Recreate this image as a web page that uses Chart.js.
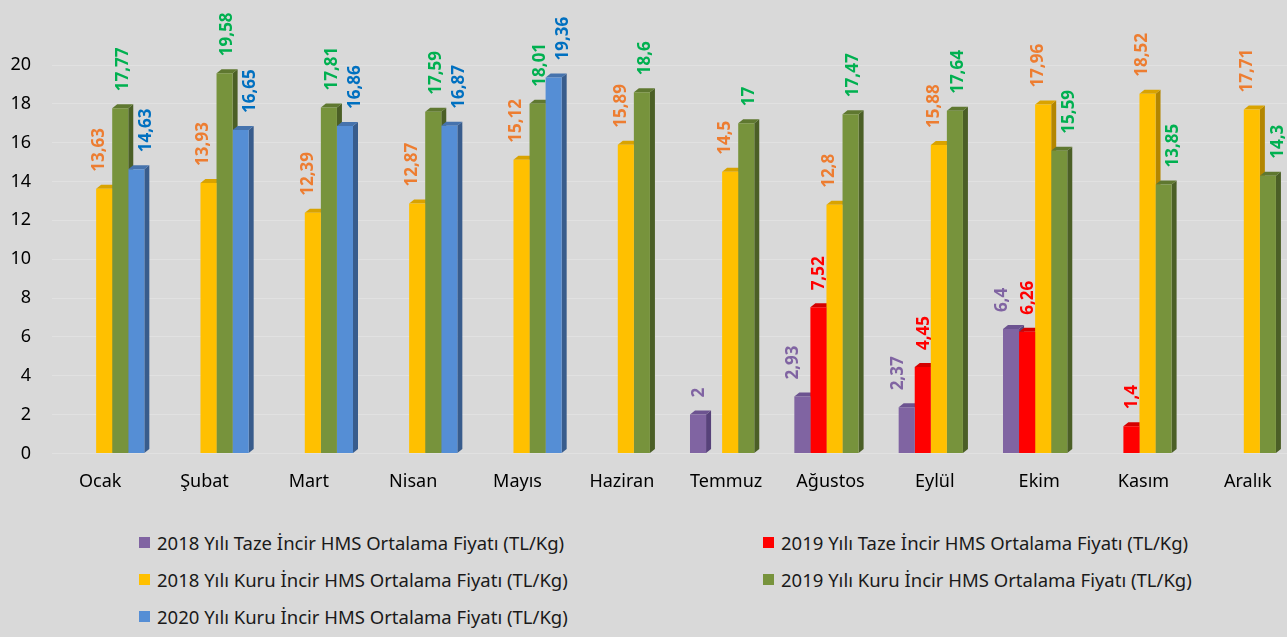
<!DOCTYPE html>
<html lang="tr">
<head>
<meta charset="utf-8">
<title>İncir HMS Ortalama Fiyatları</title>
<script src="https://cdn.jsdelivr.net/npm/chart.js@4.4.0/dist/chart.umd.min.js"></script>
<style>
  html, body { margin: 0; padding: 0; width: 1287px; height: 637px; overflow: hidden; background: #d9d9d9; }
  #wrap { position: absolute; left: 0; top: 0; width: 1304px; height: 512px; }
  #legend {
    position: absolute; left: 139px; top: 531px;
    display: grid; grid-template-columns: 624px auto; row-gap: 15px;
    font-family: "Noto Sans", sans-serif; font-size: 18.5px; color: #1a1a1a;
  }
  .item { display: flex; align-items: center; white-space: nowrap; height: 22px; }
  .box { width: 11px; height: 11px; margin-right: 7px; flex: none; }
</style>
</head>
<body>
<div id="wrap"><canvas id="chart"></canvas></div>
<div id="legend"></div>
<script>
const months = ['Ocak', 'Şubat', 'Mart', 'Nisan', 'Mayıs', 'Haziran', 'Temmuz', 'Ağustos', 'Eylül', 'Ekim', 'Kasım', 'Aralık'];

const taze2018 = [null, null, null, null, null, null, 2, 2.93, 2.37, 6.4, null, null];
const taze2019 = [null, null, null, null, null, null, null, 7.52, 4.45, 6.26, 1.4, null];
const kuru2018 = [13.63, 13.93, 12.39, 12.87, 15.12, 15.89, 14.5, 12.8, 15.88, 17.96, 18.52, 17.71];
const kuru2019 = [17.77, 19.58, 17.81, 17.59, 18.01, 18.6, 17, 17.47, 17.64, 15.59, 13.85, 14.3];
const kuru2020 = [14.63, 16.65, 16.86, 16.87, 19.36, null, null, null, null, null, null, null];

const seriesNames = [
    '2018 Yılı Taze İncir HMS Ortalama Fiyatı (TL/Kg)',
    '2019 Yılı Taze İncir HMS Ortalama Fiyatı (TL/Kg)',
    '2018 Yılı Kuru İncir HMS Ortalama Fiyatı (TL/Kg)',
    '2019 Yılı Kuru İncir HMS Ortalama Fiyatı (TL/Kg)',
    '2020 Yılı Kuru İncir HMS Ortalama Fiyatı (TL/Kg)'
];
const seriesData = [taze2018, taze2019, kuru2018, kuru2019, kuru2020];

// front, top, side, label colours per series
const barColors   = ['#8064a2', '#ff0000', '#ffc000', '#77933c', '#558ed5'];
const topColors   = ['#6c5390', '#d40000', '#d9a300', '#5f7830', '#4673ad'];
const sideColors  = ['#57427a', '#b00000', '#b38600', '#4b5f26', '#385c8c'];
const labelColors = ['#8064a2', '#ff0000', '#ed7d31', '#00b050', '#0070c0'];
// sideways nudge of the value labels so neighbours don't collide
const labelShift  = [-10, 0, -6, 2, 9];

const FONT = '"Noto Sans", sans-serif';
const DEPTH_X = 5;
const DEPTH_Y = 4;

function fmt(v) {
    return String(v).replace('.', ',');
}

function shiftFor(di, i) {
    if (di === 0 && taze2019[i] == null) return 0;
    if (di === 3 && kuru2018[i] > kuru2019[i]) return 9;
    return labelShift[di];
}

// side + top faces, drawn behind the fronts so neighbours hide them
const bars3d = {
    id: 'bars3d',
    beforeDatasetsDraw(chart) {
        const ctx = chart.ctx;
        ctx.save();
        chart.data.datasets.forEach((ds, di) => {
            const meta = chart.getDatasetMeta(di);
            meta.data.forEach((bar, i) => {
                if (ds.data[i] == null) return;
                const { x, y, base, width } = bar.getProps(['x', 'y', 'base', 'width'], true);
                const l = x - width / 2, r = x + width / 2;
                ctx.fillStyle = sideColors[di];
                ctx.beginPath();
                ctx.moveTo(r, y);
                ctx.lineTo(r + DEPTH_X, y - DEPTH_Y);
                ctx.lineTo(r + DEPTH_X, base - DEPTH_Y);
                ctx.lineTo(r, base);
                ctx.closePath();
                ctx.fill();
                ctx.fillStyle = topColors[di];
                ctx.beginPath();
                ctx.moveTo(l, y);
                ctx.lineTo(l + DEPTH_X, y - DEPTH_Y);
                ctx.lineTo(r + DEPTH_X, y - DEPTH_Y);
                ctx.lineTo(r, y);
                ctx.closePath();
                ctx.fill();
            });
        });
        ctx.restore();
    }
};

// rotated value labels above each bar
const valueLabels = {
    id: 'valueLabels',
    afterDatasetsDraw(chart) {
        const ctx = chart.ctx;
        ctx.save();
        ctx.font = 'bold 17px ' + FONT;
        ctx.textAlign = 'left';
        ctx.textBaseline = 'middle';
        chart.data.datasets.forEach((ds, di) => {
            const meta = chart.getDatasetMeta(di);
            meta.data.forEach((bar, i) => {
                const v = ds.data[i];
                if (v == null) return;
                ctx.save();
                ctx.translate(bar.x + 1 + shiftFor(di, i), bar.y - 17);
                ctx.rotate(-Math.PI / 2);
                ctx.fillStyle = labelColors[di];
                ctx.fillText(fmt(v), 0, 0);
                ctx.restore();
            });
        });
        ctx.restore();
    }
};

const background = {
    id: 'background',
    beforeDraw(chart) {
        const ctx = chart.ctx;
        ctx.save();
        ctx.fillStyle = '#d9d9d9';
        ctx.fillRect(0, 0, chart.width, chart.height);
        ctx.restore();
    }
};

const chart = new Chart(document.getElementById('chart'), {
    type: 'bar',
    data: {
        labels: months,
        datasets: seriesData.map((d, i) => ({
            label: seriesNames[i],
            data: d,
            backgroundColor: barColors[i],
            borderWidth: 0,
            categoryPercentage: 0.77,
            barPercentage: 1.0
        }))
    },
    options: {
        responsive: true,
        maintainAspectRatio: false,
        animation: false,
        layout: { padding: { top: 65, right: 0, bottom: 1, left: 0 } },
        scales: {
            x: {
                grid: { display: false, drawTicks: false },
                border: { display: false },
                ticks: { color: '#000', font: { family: FONT, size: 18 }, padding: 18, labelOffset: -4 }
            },
            y: {
                min: 0,
                max: 20,
                afterFit(scale) { scale.width = 52; },
                grid: { color: '#e1e1e1', drawTicks: false },
                border: { display: false },
                ticks: { stepSize: 2, color: '#000', font: { family: FONT, size: 18 }, padding: 21 }
            }
        },
        plugins: {
            legend: { display: false },
            tooltip: { enabled: false }
        }
    },
    plugins: [background, bars3d, valueLabels]
});

// html legend, two columns
const $legend = document.getElementById('legend');
chart.data.datasets.forEach((ds) => {
    const item = document.createElement('div');
    item.className = 'item';
    const box = document.createElement('span');
    box.className = 'box';
    box.style.background = ds.backgroundColor;
    item.appendChild(box);
    item.appendChild(document.createTextNode(ds.label));
    $legend.appendChild(item);
});
</script>
</body>
</html>
